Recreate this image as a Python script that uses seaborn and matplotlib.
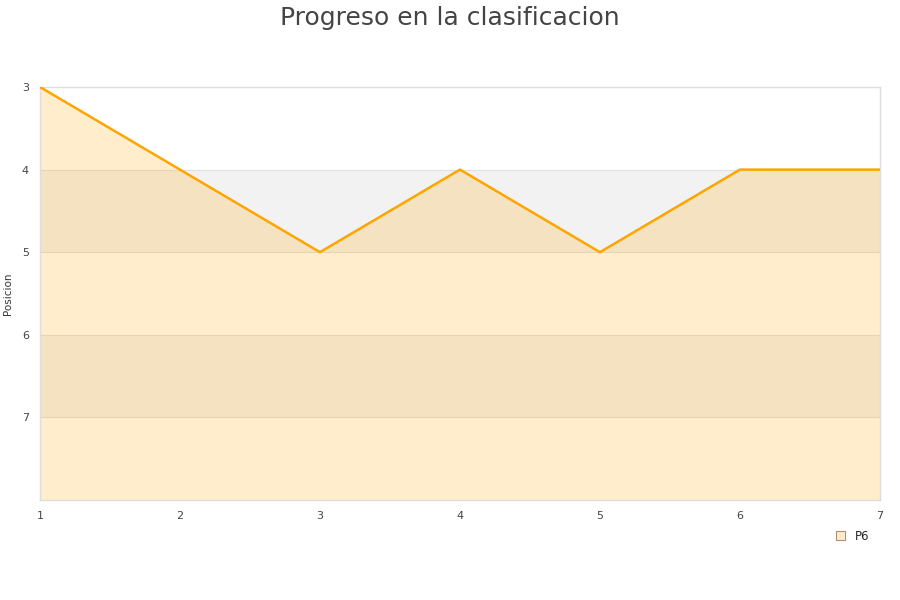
import matplotlib
matplotlib.use("Agg")
import matplotlib.pyplot as plt
import seaborn as sns
import pandas as pd
from matplotlib.patches import Patch

# data
jornadas = [1, 2, 3, 4, 5, 6, 7]
posicion = [3, 4, 5, 4, 5, 4, 4]
serie = "P6"
y_ticks = [3, 4, 5, 6, 7]

df = pd.DataFrame({"jornada": jornadas, "posicion": posicion})

sns.set_style("white")
plt.rcParams['font.family'] = ['DejaVu Sans']

fig = plt.figure(figsize=(9, 6), dpi=100)
ax = fig.add_axes([0.0444, 0.1667, 0.9333, 0.6883])

# alternating bands
for lo in (4, 6):
    ax.axhspan(lo, lo + 1, color="#f2f2f2", zorder=0, lw=0)
for y in (4, 5, 6, 7):
    ax.axhline(y, color="#e0e0e0", lw=0.8, zorder=1)

ax.fill_between(df["jornada"], df["posicion"], 8, color="orange", alpha=0.2, lw=0, zorder=2)
sns.lineplot(data=df, x="jornada", y="posicion", color="orange", lw=1.8, ax=ax, zorder=3)

ax.set_xlim(1, 7)
ax.set_ylim(8, 3)
ax.set_xticks(jornadas)
ax.set_yticks(y_ticks)
ax.tick_params(axis="both", labelsize=8, labelcolor="#444444", length=0, pad=8)
ax.set_xlabel("")
ax.set_ylabel("Posicion", fontsize=7.5, color="#333333", labelpad=6)
for s in ax.spines.values():
    s.set_color("#dddddd")
    s.set_linewidth(1)

fig.suptitle("Progreso en la clasificacion", fontsize=18, color="#444444", y=0.99)

handles = [Patch(facecolor="#ffecc8", edgecolor="#b09070", lw=0.8, label=serie)]
fig.legend(handles=handles, loc="center", bbox_to_anchor=(0.947, 0.106), frameon=False,
           fontsize=8.5, handlelength=0.8, handleheight=0.8, handletextpad=0.8)

fig.savefig("out.png", dpi=100)
